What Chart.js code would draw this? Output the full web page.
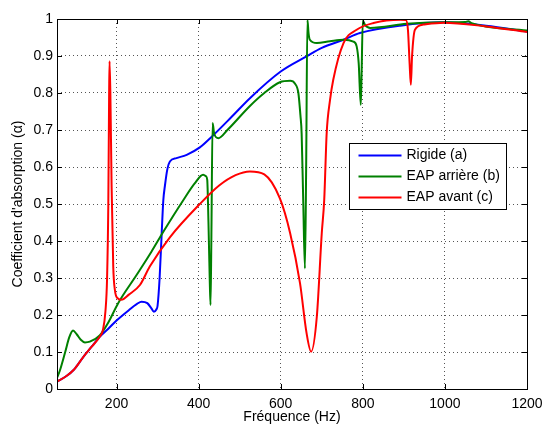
<!DOCTYPE html>
<html>
<head>
<meta charset="utf-8">
<script src="https://cdn.jsdelivr.net/npm/chart.js@4/dist/chart.umd.min.js"></script>
<style>
html, body { margin: 0; padding: 0; background: #fff; }
#wrap { width: 544px; height: 426px; }
</style>
</head>
<body>
<div id="wrap"><canvas id="graph_absorption"></canvas></div>
<script>
// Rigide (a)
var freqRigide = [55, 78, 96, 118, 140, 159, 180, 200, 230, 250, 261, 275, 285, 291, 297, 300, 305, 310, 314, 318, 324, 330, 346, 371, 403, 432, 480, 525, 600, 663, 700, 753, 793, 891, 997, 1100, 1200]
var alphaRigide = [0.02, 0.035, 0.052, 0.085, 0.115, 0.141, 0.163, 0.185, 0.213, 0.23, 0.236, 0.232, 0.218, 0.209, 0.215, 0.225, 0.30, 0.42, 0.51, 0.55, 0.595, 0.615, 0.624, 0.633, 0.653, 0.682, 0.735, 0.786, 0.858, 0.899, 0.922, 0.944, 0.962, 0.982, 0.991, 0.982, 0.966]

// EAP arriere (b)
var freqArriere = [55, 62, 75, 85, 94, 103, 113, 123, 135, 159, 180, 204, 250, 285, 314, 363, 390, 411, 418, 421, 424, 427, 429, 431, 434, 438, 448, 470, 525, 560, 598, 623, 635, 643, 648, 651, 655, 659, 662, 665, 668, 671, 688, 720, 753, 777, 785, 790, 795, 797, 800, 805, 818, 907, 997, 1050, 1057, 1065, 1200]
var alphaArriere = [0.03, 0.05, 0.10, 0.14, 0.158, 0.148, 0.133, 0.126, 0.128, 0.145, 0.18, 0.232, 0.31, 0.371, 0.425, 0.511, 0.555, 0.579, 0.575, 0.565, 0.45, 0.30, 0.227, 0.40, 0.719, 0.69, 0.678, 0.70, 0.765, 0.80, 0.829, 0.833, 0.825, 0.80, 0.74, 0.69, 0.50, 0.326, 0.60, 0.998, 0.96, 0.944, 0.935, 0.94, 0.944, 0.939, 0.926, 0.88, 0.768, 0.85, 0.996, 0.985, 0.976, 0.987, 0.991, 0.992, 0.994, 0.989, 0.969]

// EAP avant (c)
var freqAvant = [55, 78, 96, 118, 140, 159, 167, 173, 177, 180, 182, 183, 185, 188, 192, 196, 203, 212, 230, 257, 281, 330, 403, 450, 490, 525, 560, 598, 623, 647, 663, 674, 688, 700, 706, 712, 720, 728, 753, 785, 826, 891, 905, 910, 914, 917, 920, 927, 948, 997, 1100, 1200]
var alphaAvant = [0.02, 0.035, 0.052, 0.085, 0.115, 0.141, 0.16, 0.21, 0.30, 0.50, 0.80, 0.886, 0.80, 0.55, 0.331, 0.268, 0.245, 0.241, 0.255, 0.281, 0.331, 0.41, 0.50, 0.55, 0.578, 0.588, 0.58, 0.515, 0.421, 0.286, 0.151, 0.101, 0.196, 0.421, 0.511, 0.692, 0.78, 0.836, 0.935, 0.971, 0.989, 0.998, 0.997, 0.97, 0.88, 0.822, 0.90, 0.971, 0.985, 0.99, 0.98, 0.965]

var seriesLabels = ['Rigide (a)', 'EAP arri\u00e8re (b)', 'EAP avant (c)']
var seriesColors = ['#0000ff', '#008000', '#ff0000']
var xTicks = [200, 400, 600, 800, 1000, 1200]

var FONT = '"Liberation Sans", Arial, Helvetica, sans-serif'

function toPoints(xs, ys) {
	var pts = []
	for (var i = 0; i < xs.length; i++) pts.push({x: xs[i], y: ys[i]})
	return pts
}

function mkDataset(i, xs, ys) {
	return {
		label: seriesLabels[i],
		data: toPoints(xs, ys),
		borderColor: seriesColors[i],
		backgroundColor: seriesColors[i],
		borderWidth: 2,
		pointRadius: 0,
		cubicInterpolationMode: 'monotone',
		fill: false,
		order: 3 - i // later series on top, like matlab
	}
}

// frame, inward ticks and legend box like matlab
var matlabFrame = {
	id: 'matlabFrame',
	afterDatasetsDraw: function (chart) {
		var ctx = chart.ctx
		var a = chart.chartArea
		var sx = chart.scales.x, sy = chart.scales.y
		ctx.save()
		ctx.strokeStyle = '#000'
		ctx.lineWidth = 1
		ctx.beginPath()
		sx.ticks.forEach(function (t) {
			var px = Math.round(sx.getPixelForValue(t.value)) + 0.5
			ctx.moveTo(px, a.bottom); ctx.lineTo(px, a.bottom - 5)
			ctx.moveTo(px, a.top); ctx.lineTo(px, a.top + 5)
		})
		sy.ticks.forEach(function (t) {
			var py = Math.round(sy.getPixelForValue(t.value)) + 0.5
			ctx.moveTo(a.left, py); ctx.lineTo(a.left + 5, py)
			ctx.moveTo(a.right, py); ctx.lineTo(a.right - 5, py)
		})
		ctx.stroke()
		ctx.strokeRect(Math.round(a.left) + 0.5, Math.round(a.top) + 0.5,
			Math.round(a.right - a.left), Math.round(a.bottom - a.top))

		// legend
		var bx = 349.5, by = 143.5, bw = 157, bh = 66
		ctx.fillStyle = '#fff'
		ctx.fillRect(bx, by, bw, bh)
		ctx.strokeRect(bx, by, bw, bh)
		ctx.font = '14px ' + FONT
		ctx.textBaseline = 'middle'
		chart.data.datasets.forEach(function (ds, i) {
			var ly = by + 12 + i * 21
			ctx.strokeStyle = ds.borderColor
			ctx.lineWidth = 2
			ctx.beginPath()
			ctx.moveTo(bx + 9, ly); ctx.lineTo(bx + 52, ly)
			ctx.stroke()
			ctx.fillStyle = '#000'
			ctx.fillText(ds.label, bx + 57, ly)
		})
		ctx.restore()
	}
}

Chart.defaults.font.family = FONT
Chart.defaults.font.size = 14
Chart.defaults.color = '#000'

new Chart(document.getElementById('graph_absorption'), {
	type: 'line',
	data: {
		datasets: [
			mkDataset(0, freqRigide, alphaRigide),
			mkDataset(1, freqArriere, alphaArriere),
			mkDataset(2, freqAvant, alphaAvant)
		]
	},
	options: {
		responsive: true,
		maintainAspectRatio: false,
		animation: false,
		layout: { padding: { top: 19, right: 17, left: 0, bottom: 0 } },
		plugins: { legend: { display: false }, tooltip: { enabled: false } },
		scales: {
			x: {
				type: 'linear',
				min: 55,
				max: 1200,
				afterBuildTicks: function (s) {
					s.ticks = xTicks.map(function (v) { return {value: v} })
				},
				afterFit: function (s) { s.height = 37; s.paddingRight = 0; s.paddingLeft = 0 },
				ticks: { padding: 7, maxRotation: 0, callback: function (v) { return v } },
				grid: { color: '#555', lineWidth: 1, drawTicks: false },
				border: { display: false, dash: [1, 3] },
				title: { display: true, text: 'Fr\u00e9quence (Hz)', padding: { top: -6, bottom: 0 } }
			},
			y: {
				min: 0,
				max: 1,
				afterFit: function (s) { s.width = 57; s.paddingTop = 0; s.paddingBottom = 0 },
				ticks: { stepSize: 0.1, padding: 4, callback: function (v) { return +v.toFixed(1) } },
				grid: { color: '#555', lineWidth: 1, drawTicks: false },
				border: { display: false, dash: [1, 3] },
				title: { display: true, text: 'Coefficient d\'absorption (\u03b1)', padding: { top: 10, bottom: 10 } }
			}
		}
	},
	plugins: [matlabFrame]
})
</script>
</body>
</html>
